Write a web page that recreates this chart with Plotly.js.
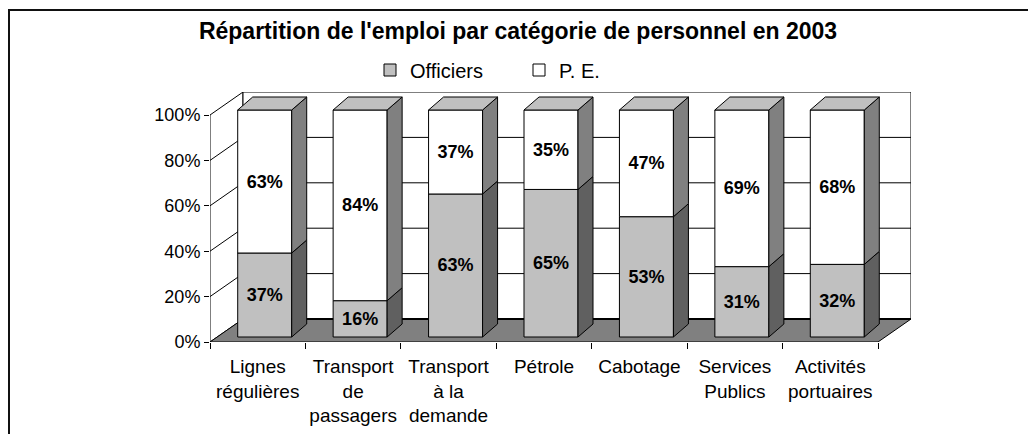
<!DOCTYPE html>
<html>
<head>
<meta charset="utf-8">
<script src="https://cdn.plot.ly/plotly-3.0.1.min.js"></script>
<style>
  html, body { margin: 0; padding: 0; background: #fff; }
  #chart { width: 1028px; height: 434px; }
</style>
</head>
<body>
<div id="chart"></div>
<script>
const categories = ['Lignes<br>régulières', 'Transport<br>de<br>passagers', 'Transport<br>à la<br>demande',
  'Pétrole', 'Cabotage', 'Services<br>Publics', 'Activités<br>portuaires'];
const officiers = [37, 16, 63, 65, 53, 31, 32];
const pe = [63, 84, 37, 35, 47, 69, 68];
const yTicks = [0, 20, 40, 60, 80, 100];

// pixel geometry of the fake 3D box (plot area 210..911 x 92..342)
const PX_X = 668 / 7;        // px per category
const PX_Y = 2.27;           // px per percent
const DX = 33 / PX_X;        // depth of walls
const DY = 23 / PX_Y;
const SX = 7 / PX_X;         // bar front face offset from the front plane
const SY = 5 / PX_Y;
const BW = 54 / PX_X;        // bar width
const BX = 15 / PX_X;        // bar depth
const BY = 13 / PX_Y;

const n = categories.length;
const font = 'Liberation Sans, Arial, sans-serif';

const xs = categories.map((c, i) => i + 0.5 + SX);

const faceTrace = (polys, color) => {
  const x = [], y = [];
  polys.forEach(p => {
    p.forEach(pt => { x.push(pt[0]); y.push(pt[1]); });
    x.push(p[0][0]); y.push(p[0][1]);
    x.push(null); y.push(null);
  });
  return {
    x: x, y: y, type: 'scatter', mode: 'lines', fill: 'toself',
    fillcolor: color, line: {color: '#000', width: 1},
    showlegend: false, hoverinfo: 'skip'
  };
};

const offSide = [], peSide = [], tops = [];
officiers.forEach((v, i) => {
  const xr = xs[i] + BW / 2;
  const xl = xs[i] - BW / 2;
  const y0 = SY, y1 = SY + v, y2 = SY + v + pe[i];
  offSide.push([[xr, y0], [xr + BX, y0 + BY], [xr + BX, y1 + BY], [xr, y1]]);
  peSide.push([[xr, y1], [xr + BX, y1 + BY], [xr + BX, y2 + BY], [xr, y2]]);
  tops.push([[xl, y2], [xl + BX, y2 + BY], [xr + BX, y2 + BY], [xr, y2]]);
});

const barOff = {
  x: xs, y: officiers, base: officiers.map(() => SY),
  type: 'bar', name: 'Officiers', width: BW,
  marker: {color: '#C0C0C0', line: {color: '#000', width: 1}},
  text: officiers.map(v => v + '%'), textposition: 'inside', insidetextanchor: 'middle',
  constraintext: 'none', textangle: 0,
  textfont: {family: font, size: 18, color: '#000', weight: 'bold'},
  hoverinfo: 'skip'
};

const barPe = {
  x: xs, y: pe, base: officiers.map(v => v + SY),
  type: 'bar', name: 'P. E.', width: BW,
  marker: {color: '#FFFFFF', line: {color: '#000', width: 1}},
  text: pe.map(v => v + '%'), textposition: 'inside', insidetextanchor: 'middle',
  constraintext: 'none', textangle: 0,
  textfont: {family: font, size: 18, color: '#000', weight: 'bold'},
  hoverinfo: 'skip'
};

const data = [barOff, barPe,
  faceTrace(offSide, '#606060'), faceTrace(peSide, '#808080'), faceTrace(tops, '#C0C0C0')];

// walls and floor
const shapes = [];
shapes.push({type: 'path', xref: 'x', yref: 'y', layer: 'below',
  path: `M0,0L${DX},${DY}L${DX},${100 + DY}L0,100Z`,
  fillcolor: '#fff', line: {color: '#000', width: 1}});
shapes.push({type: 'rect', xref: 'x', yref: 'y', layer: 'below',
  x0: DX, x1: n + DX, y0: DY, y1: 100 + DY,
  fillcolor: '#fff', line: {color: '#000', width: 1}});
yTicks.slice(1, -1).forEach(v => {
  shapes.push({type: 'line', xref: 'x', yref: 'y', layer: 'below',
    x0: DX, x1: n + DX, y0: v + DY, y1: v + DY, line: {color: '#000', width: 1}});
  shapes.push({type: 'line', xref: 'x', yref: 'y', layer: 'below',
    x0: 0, x1: DX, y0: v, y1: v + DY, line: {color: '#000', width: 1}});
});
shapes.push({type: 'path', xref: 'x', yref: 'y', layer: 'below',
  path: `M0,0L${n},0L${n + DX},${DY}L${DX},${DY}Z`,
  fillcolor: '#808080', line: {color: '#000', width: 1}});
shapes.push({type: 'line', xref: 'x', yref: 'y', layer: 'below',
  x0: DX, x1: n + DX, y0: DY, y1: DY, line: {color: '#000', width: 2}});
// outer chart frame
shapes.push({type: 'rect', xref: 'paper', yref: 'paper',
  x0: (9 - 210) / 701, x1: (1040 - 210) / 701, y0: (342 - 450) / 250, y1: (342 - 10) / 250,
  fillcolor: 'rgba(0,0,0,0)', line: {color: '#111', width: 2}});

const layout = {
  width: 1028, height: 434,
  margin: {l: 210, r: 117, t: 92, b: 92},
  paper_bgcolor: '#fff', plot_bgcolor: 'rgba(0,0,0,0)',
  font: {family: font, size: 17, color: '#000'},
  title: {
    text: "Répartition de l'emploi par catégorie de personnel en 2003",
    font: {family: font, size: 23, color: '#000', weight: 'bold'},
    x: 518 / 1028, xanchor: 'center', y: 1 - 31 / 434, yanchor: 'middle'
  },
  barmode: 'overlay',
  showlegend: true,
  legend: {
    orientation: 'h', x: (370 - 210) / 701, xanchor: 'left', y: (342 - 70) / 250, yanchor: 'middle',
    font: {family: font, size: 20, color: '#000'},
    entrywidth: 104, entrywidthmode: 'pixels', traceorder: 'normal',
    bgcolor: 'rgba(0,0,0,0)'
  },
  xaxis: {
    type: 'linear', range: [0, n + DX], fixedrange: true,
    tickmode: 'array', tickvals: categories.map((c, i) => i + 0.5), ticktext: categories,
    ticks: '', showgrid: false, zeroline: false, showline: false,
    tickfont: {family: font, size: 19, color: '#000'},
    ticklabelstandoff: 11,
    minor: {tickmode: 'array', tickvals: categories.map((c, i) => i).concat([n]),
      ticks: 'outside', ticklen: 6, tickcolor: '#000', tickwidth: 1, showgrid: false}
  },
  yaxis: {
    range: [0, 250 / PX_Y], fixedrange: true,
    tickmode: 'array', tickvals: yTicks, ticktext: yTicks.map(v => v + '%'),
    ticks: 'outside', ticklen: 5, tickcolor: '#000',
    showgrid: false, zeroline: false, showline: false,
    tickfont: {family: font, size: 18, color: '#000'}
  },
  shapes: shapes
};

const config = {responsive: false, displayModeBar: false, staticPlot: true};

Plotly.newPlot('chart', data, layout, config);
</script>
</body>
</html>
